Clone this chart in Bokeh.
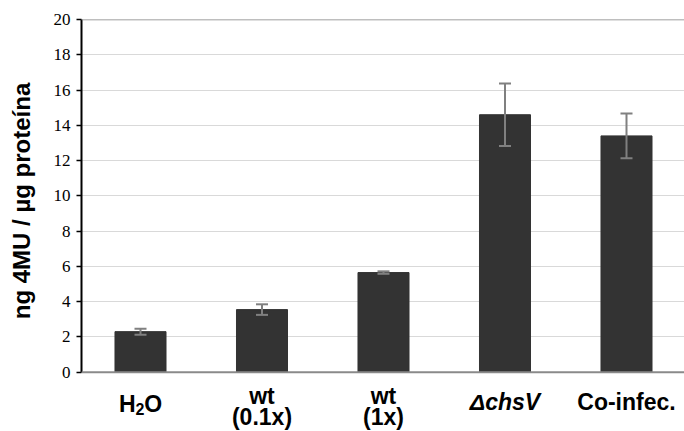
from bokeh.plotting import figure
from bokeh.layouts import column
from bokeh.models import (ColumnDataSource, Whisker, TeeHead, Span,
                          Range1d, FixedTicker)
from bokeh.core.properties import value
from bokeh.embed import file_html
from bokeh.resources import INLINE

# ---- data ----
categories = ["H2O", "wt (0.1x)", "wt (1x)", "ΔchsV", "Co-infec."]
values = [2.3, 3.55, 5.65, 14.6, 13.4]
errors = [0.17, 0.3, 0.07, 1.77, 1.27]
y_ticks = [0, 2, 4, 6, 8, 10, 12, 14, 16, 18, 20]
y_max = 20
y_label = "ng 4MU / µg proteína"

# ---- layout numbers (pixels) ----
W, H = 684, 431
LEFT, TOP = 81, 19
ZERO_Y = 371.7            # screen y of value 0
MAIN_H = 382              # height of the main plot
PX = (ZERO_Y - TOP) / y_max   # pixels per unit
CAT_W = 121.5             # pixels per category
FIRST_C = 140 - LEFT      # first category centre, from frame left
y_start = -(MAIN_H - ZERO_Y) / PX
x_start = -FIRST_C / CAT_W
x_end = x_start + (W - LEFT) / CAT_W
LAB_H = H - MAIN_H

xpos = list(range(len(categories)))
src = ColumnDataSource(dict(
    x=xpos, top=values,
    upper=[v + e for v, e in zip(values, errors)],
    lower=[v - e for v, e in zip(values, errors)],
))

xr = Range1d(x_start, x_end)
p = figure(width=W, height=MAIN_H, output_backend="svg", toolbar_location=None,
           x_range=xr, y_range=Range1d(y_start, y_max),
           x_axis_location=None,
           min_border_left=LEFT, min_border_right=0, min_border_top=TOP,
           min_border_bottom=0)
p.outline_line_color = None
p.background_fill_color = "white"

p.vbar(x="x", top="top", width=0.42, source=src, fill_color="#333333",
       line_color="#333333")

w = Whisker(source=src, base="x", upper="upper", lower="lower",
            line_color="#808080", line_width=2, level="overlay",
            upper_head=TeeHead(size=12, line_color="#808080", line_width=2),
            lower_head=TeeHead(size=12, line_color="#808080", line_width=2))
p.add_layout(w)

p.add_layout(Span(location=y_max, dimension="width", line_color="#7f7f7f",
                  line_width=1.5))
p.add_layout(Span(location=0, dimension="width", line_color="#8a8a8a",
                  line_width=2))

# y axis
yax = p.yaxis[0]
yax.ticker = FixedTicker(ticks=y_ticks)
yax.bounds = (0, y_max)
yax.axis_line_color = "black"
yax.axis_line_width = 2
yax.major_tick_line_color = "black"
yax.major_tick_line_width = 1.5
yax.major_tick_out = 5
yax.major_tick_in = 0
yax.minor_tick_line_color = None
yax.major_label_text_font = "Liberation Serif"
yax.major_label_text_font_size = "17px"
yax.major_label_text_color = "black"
yax.major_label_standoff = 6
yax.axis_label = y_label
yax.axis_label_text_font = "Liberation Sans"
yax.axis_label_text_font_style = "bold"
yax.axis_label_text_font_size = "24px"
yax.axis_label_text_color = "black"
yax.axis_label_standoff = 16

p.xgrid.grid_line_color = None
p.ygrid.grid_line_color = "#d9d9d9"
p.ygrid.grid_line_width = 1
p.ygrid.bounds = (0, y_max)

# ---- category label strip (y measured in pixels from its top) ----
q = figure(width=W, height=LAB_H, output_backend="svg", toolbar_location=None,
           x_range=xr, y_range=Range1d(LAB_H, 0),
           x_axis_location=None, y_axis_location=None,
           min_border_left=LEFT, min_border_right=0, min_border_top=0,
           min_border_bottom=0)
q.outline_line_color = None
q.xgrid.grid_line_color = None
q.ygrid.grid_line_color = None

FONT = "Liberation Sans"
FS = "23px"

def txt(x, text, base_y, dx=0, size=FS, style="bold", align="center"):
    q.text(x=[x], y=[base_y - MAIN_H], text=[text], x_offset=dx,
           text_font=value(FONT), text_font_size=value(size),
           text_font_style=style, text_align=align,
           text_baseline="alphabetic", text_color="black")

# H2O with subscript 2
txt(xpos[0], "H", 403, dx=-21.5, align="left")
txt(xpos[0], "2", 408, dx=-5.0, size="16px", align="left")
txt(xpos[0], "O", 403, dx=3.8, align="left")
# wt (0.1x)
txt(xpos[1], "wt", 395)
txt(xpos[1], "(0.1x)", 416)
# wt (1x)
txt(xpos[2], "wt", 395)
txt(xpos[2], "(1x)", 416)
# ΔchsV (italic)
txt(xpos[3], "ΔchsV", 401, style="bold italic")
# Co-infec.
txt(xpos[4], "Co-infec.", 401)

layout = column(p, q, spacing=0)
open("out.html", "w").write(file_html(layout, INLINE))
